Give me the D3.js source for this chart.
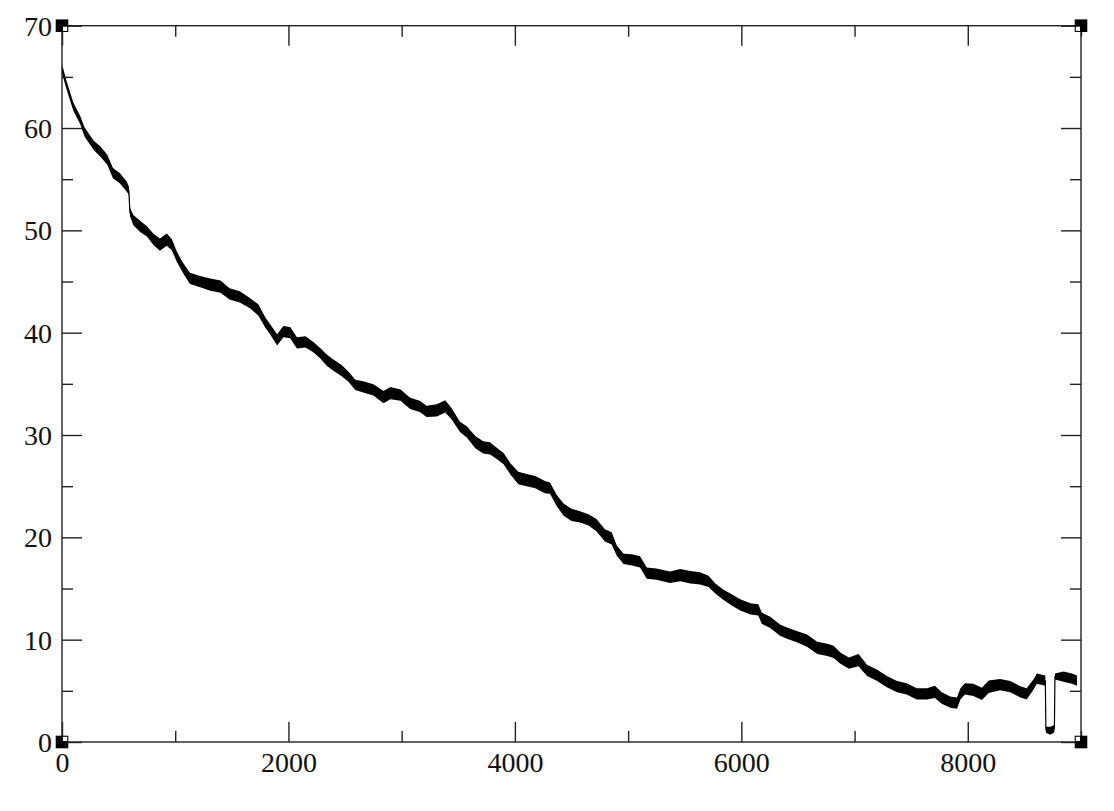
<!DOCTYPE html>
<html>
<head>
<meta charset="utf-8">
<script src="https://cdn.jsdelivr.net/npm/d3@7"></script>
<style>
  html, body { margin: 0; padding: 0; background: #fff; }
  svg { display: block; }
  .lbl { font-family: "Liberation Serif", "DejaVu Serif", serif; font-size: 28px; fill: #111; }
</style>
</head>
<body>
<svg id="chart" width="1114" height="811"></svg>
<script>
// ---- data ----
const steps = [0, 40, 100, 160, 200, 280, 340, 400, 450, 510, 570, 590, 600, 630, 690, 750, 810, 865, 925, 970,
  1015, 1070, 1130, 1220, 1310, 1400, 1480, 1570, 1660, 1735, 1795, 1840, 1900, 1955, 2015, 2075, 2150, 2220, 2280, 2340,
  2400, 2470, 2530, 2590, 2660, 2750, 2840, 2900, 2990, 3075, 3160, 3220, 3310, 3385, 3440, 3515, 3575, 3650, 3720, 3780,
  3840, 3900, 3960, 4030, 4105, 4180, 4265, 4310, 4370, 4430, 4500, 4575, 4650, 4720, 4795, 4855, 4900, 4960, 5035, 5105,
  5165, 5250, 5370, 5460, 5550, 5635, 5710, 5770, 5840, 5915, 5990, 6080, 6150, 6180, 6255, 6345, 6415, 6490, 6580, 6670,
  6760, 6815, 6875, 6950, 7035, 7110, 7200, 7285, 7375, 7460, 7550, 7640, 7710, 7770, 7845, 7905, 7935, 7975, 8050, 8125,
  8185, 8285, 8375, 8465, 8520, 8580, 8610, 8685, 8690, 8730, 8765, 8770, 8845, 8920, 8965];
const values = [65.8, 64.2, 62.1, 60.8, 59.6, 58.3, 57.7, 56.9, 55.6, 55.1, 54.3, 53.9, 51.8, 51.0, 50.4, 49.9, 49.1, 48.6, 49.1, 48.6,
  47.4, 46.3, 45.3, 45.0, 44.7, 44.5, 43.8, 43.5, 42.9, 42.2, 41.0, 40.3, 39.3, 40.1, 40.0, 39.0, 39.1, 38.6, 38.0, 37.3,
  36.8, 36.3, 35.7, 34.9, 34.7, 34.4, 33.7, 34.1, 33.9, 33.1, 32.8, 32.3, 32.4, 32.8, 32.1, 30.8, 30.3, 29.3, 28.8, 28.7,
  28.2, 27.7, 26.7, 25.8, 25.6, 25.4, 24.9, 24.8, 23.6, 22.7, 22.2, 22.0, 21.7, 21.2, 20.2, 19.9, 18.7, 17.9, 17.8, 17.6,
  16.5, 16.4, 16.1, 16.3, 16.1, 16.0, 15.7, 15.0, 14.4, 13.9, 13.4, 13.0, 12.9, 12.1, 11.7, 10.9, 10.6, 10.3, 9.9, 9.2,
  9.0, 8.8, 8.2, 7.7, 8.0, 7.0, 6.5, 5.9, 5.4, 5.2, 4.7, 4.7, 4.9, 4.3, 3.9, 3.8, 4.7, 5.2, 5.1, 4.7,
  5.4, 5.6, 5.4, 4.9, 4.7, 5.6, 6.2, 6.0, 1.2, 1.1, 1.3, 6.4, 6.4, 6.2, 6.0];
// half-thickness of the noisy band
const spread = [0.45, 0.4, 0.4, 0.4, 0.45, 0.45, 0.5, 0.5, 0.5, 0.5, 0.5, 0.4, 0.4, 0.5, 0.55, 0.5, 0.55, 0.6, 0.6, 0.55,
  0.5, 0.5, 0.55, 0.55, 0.6, 0.6, 0.55, 0.55, 0.5, 0.55, 0.5, 0.5, 0.55, 0.55, 0.55, 0.55, 0.55, 0.5, 0.5, 0.55,
  0.55, 0.55, 0.5, 0.5, 0.55, 0.55, 0.6, 0.6, 0.55, 0.55, 0.55, 0.55, 0.6, 0.6, 0.55, 0.5, 0.55, 0.6, 0.6, 0.6,
  0.55, 0.55, 0.55, 0.6, 0.6, 0.6, 0.6, 0.55, 0.55, 0.6, 0.6, 0.55, 0.55, 0.6, 0.6, 0.6, 0.5, 0.5, 0.55, 0.55,
  0.55, 0.55, 0.55, 0.6, 0.6, 0.6, 0.55, 0.5, 0.5, 0.55, 0.55, 0.55, 0.55, 0.55, 0.55, 0.55, 0.55, 0.55, 0.6, 0.6,
  0.6, 0.6, 0.55, 0.55, 0.6, 0.55, 0.55, 0.55, 0.55, 0.55, 0.55, 0.55, 0.6, 0.55, 0.55, 0.55, 0.55, 0.55, 0.6, 0.6,
  0.6, 0.55, 0.55, 0.55, 0.55, 0.5, 0.5, 0.5, 0.3, 0.4, 0.35, 0.3, 0.5, 0.5, 0.5];
const xTickValues = [0, 2000, 4000, 6000, 8000];
const xMinorValues = [1000, 3000, 5000, 7000, 9000];
const yTickValues = [0, 10, 20, 30, 40, 50, 60, 70];
const yMinorValues = [5, 15, 25, 35, 45, 55, 65];

// ---- layout ----
const svg = d3.select("#chart");
const L = 62, R = 1081, T = 25.7, B = 742;
const x = d3.scaleLinear().domain([0, 9000]).range([L, R]);
const y = d3.scaleLinear().domain([0, 70]).range([B, T]);

const pts = steps.map((s, i) => ({ s, v: values[i], d: spread[i] }));

const g = svg.append("g");
g.append("path")
  .datum(pts)
  .attr("fill", "#000")
  .attr("d", d3.area().x(d => x(d.s)).y0(d => y(d.v - d.d)).y1(d => y(d.v + d.d)));
g.append("path")
  .datum(pts)
  .attr("fill", "none")
  .attr("stroke", "#000")
  .attr("stroke-width", 1.2)
  .attr("d", d3.line().x(d => x(d.s)).y(d => y(d.v)));

// ---- frame ----
svg.append("rect")
  .attr("x", L).attr("y", T).attr("width", R - L).attr("height", B - T)
  .attr("fill", "none").attr("stroke", "#222").attr("stroke-width", 1.4);

// ---- axes (inward ticks on all four sides) ----
function noDomain(sel) { sel.select(".domain").remove(); sel.selectAll("line").attr("stroke", "#222").attr("stroke-width", 1.4); }
const bottomMajor = svg.append("g").attr("transform", `translate(0,${B})`)
  .call(d3.axisBottom(x).tickValues(xTickValues).tickSize(-20).tickPadding(0).tickFormat(d3.format("d")));
noDomain(bottomMajor);
bottomMajor.selectAll("text").attr("class", "lbl").attr("y", 30).attr("dy", null);
const bottomMinor = svg.append("g").attr("transform", `translate(0,${B})`)
  .call(d3.axisBottom(x).tickValues(xMinorValues).tickSize(-11).tickFormat(""));
noDomain(bottomMinor);
const topMajor = svg.append("g").attr("transform", `translate(0,${T})`)
  .call(d3.axisTop(x).tickValues(xTickValues).tickSize(-20).tickFormat(""));
noDomain(topMajor);
const topMinor = svg.append("g").attr("transform", `translate(0,${T})`)
  .call(d3.axisTop(x).tickValues(xMinorValues).tickSize(-11).tickFormat(""));
noDomain(topMinor);

const leftMajor = svg.append("g").attr("transform", `translate(${L},0)`)
  .call(d3.axisLeft(y).tickValues(yTickValues).tickSize(-20).tickPadding(10).tickFormat(d3.format("d")));
noDomain(leftMajor);
leftMajor.selectAll("text").attr("class", "lbl").attr("x", -10).attr("dy", "0.34em");
const leftMinor = svg.append("g").attr("transform", `translate(${L},0)`)
  .call(d3.axisLeft(y).tickValues(yMinorValues).tickSize(-11).tickFormat(""));
noDomain(leftMinor);
const rightMajor = svg.append("g").attr("transform", `translate(${R},0)`)
  .call(d3.axisRight(y).tickValues(yTickValues).tickSize(-20).tickFormat(""));
noDomain(rightMajor);
const rightMinor = svg.append("g").attr("transform", `translate(${R},0)`)
  .call(d3.axisRight(y).tickValues(yMinorValues).tickSize(-11).tickFormat(""));
noDomain(rightMinor);

// ---- corner handles ----
const corners = [[L, T, 1, 1], [R, T, -1, 1], [L, B, 1, -1], [R, B, -1, -1]];
corners.forEach(([cx, cy, sx, sy]) => {
  svg.append("rect").attr("x", cx - 6.3).attr("y", cy - 6.3).attr("width", 12.6).attr("height", 12.6).attr("fill", "#000");
  const w = 4.2;
  svg.append("rect")
    .attr("x", sx > 0 ? cx + 1 : cx - 1 - w)
    .attr("y", sy > 0 ? cy + 1 : cy - 1 - w)
    .attr("width", w).attr("height", w).attr("fill", "#fff");
});
</script>
</body>
</html>
